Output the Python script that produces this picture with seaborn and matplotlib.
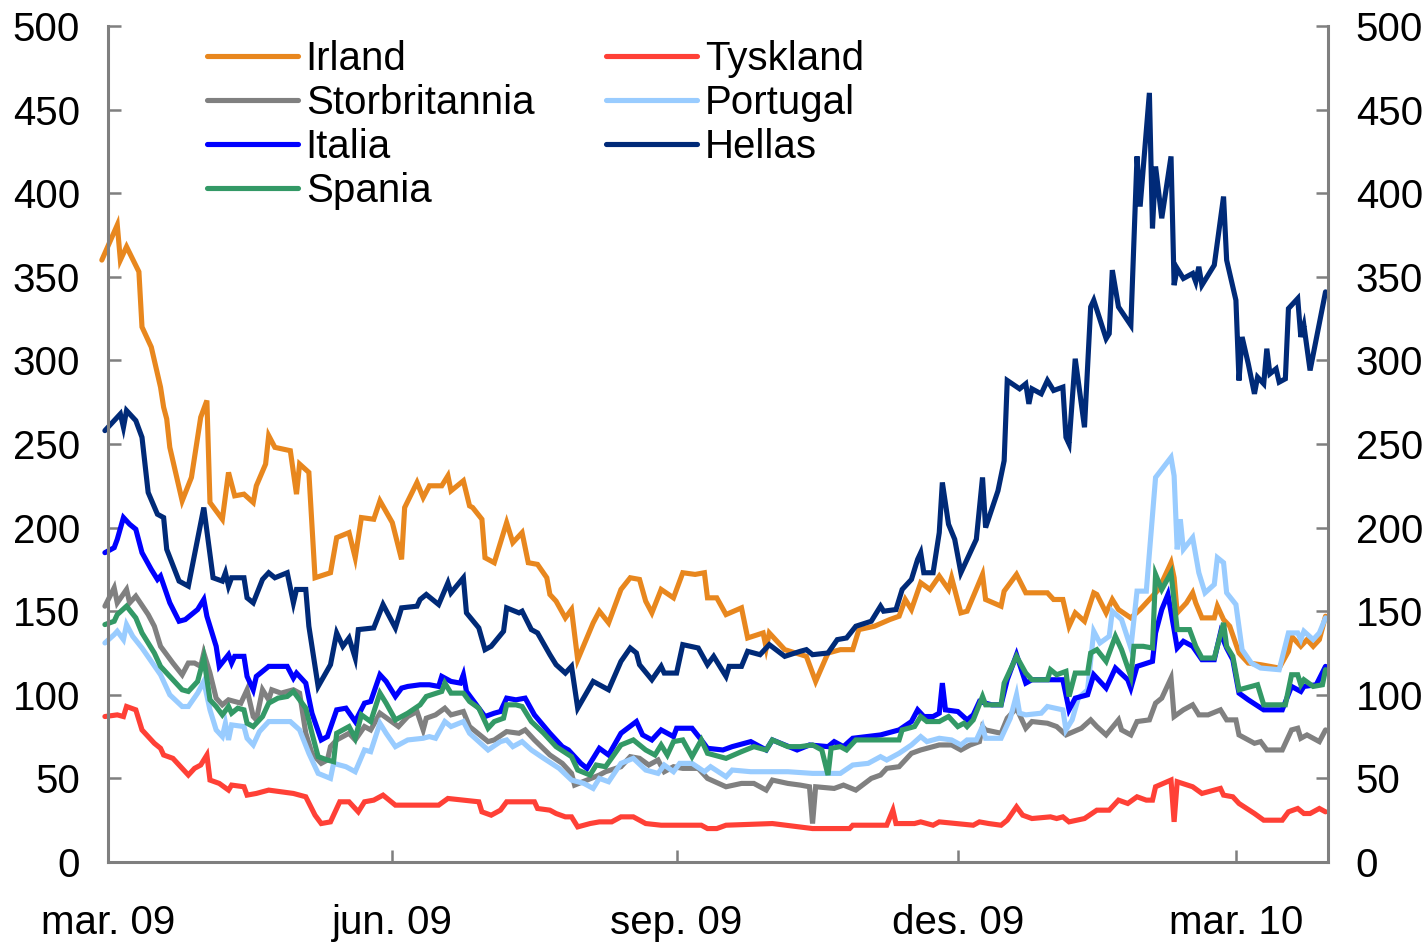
import datetime as dt
import matplotlib
matplotlib.use("Agg")
import matplotlib.pyplot as plt
from matplotlib.lines import Line2D
import pandas as pd
import seaborn as sns

# ---------------- data (days after 1 March 2009, basis points) ----------------
irland_day = [-2,3,4,6,10,11,14,17,18,19,20,24,27,30,32,33,37,39,41,44,47,48,51,52,54,59,61,62,65,67,72,74,78,80,82,86,88,92,95,96,100,102,104,108,110,111,115,117,118,121,122,125,129,131,134,136,139,142,143,145,148,150,152,157,159,162,166,169,172,174,176,179,183,186,190,193,194,197,200,205,207,212,213,214,219,226,229,233,237,241,243,248,253,256,258,260,263,266,269,272,273,276,278,283,284,289,290,294,297,304,306,309,311,313,316,319,320,323,325,327,331,334,337,340,344,345,346,349,351,352,354,358,359,361,363,366,369,373,376,379,382,383,386,388,390,392,394]
irland_val = [360,381,360,368,353,320,308,284,272,265,248,216,230,266,276,215,205,233,219,220,215,225,238,255,248,246,220,238,233,170,173,194,197,182,206,205,216,203,181,212,227,218,225,225,231,222,228,213,212,205,182,179,203,191,197,179,178,170,160,156,146,151,121,143,150,143,163,170,169,156,149,163,158,173,172,173,158,158,148,152,134,137,128,137,127,123,108,125,127,127,139,141,145,147,157,151,167,163,171,163,170,149,150,172,157,153,162,172,161,161,157,157,141,149,144,161,160,149,157,151,146,151,157,163,179,170,149,155,161,155,146,146,153,145,141,125,119,118,117,116,126,135,129,133,129,133,147]

tyskland_day = [-1,3,5,6,9,11,15,17,18,21,23,26,28,30,32,33,36,39,40,44,45,48,52,60,64,67,69,72,75,78,81,83,86,89,93,100,107,110,120,121,124,127,129,136,138,139,143,145,148,150,152,156,159,163,166,170,174,179,192,194,197,200,215,228,240,241,252,254,255,261,263,267,269,280,282,285,289,291,294,296,299,305,307,309,311,316,320,324,327,330,333,336,338,339,344,345,346,351,354,360,361,364,366,371,374,380,382,385,387,389,392,394]
tyskland_val = [87,88,87,93,91,79,71,68,64,62,58,52,56,58,64,49,47,43,46,45,40,41,43,41,39,28,23,24,36,36,30,36,37,40,34,34,34,38,36,30,28,31,36,36,36,32,31,29,27,27,21,23,24,24,27,27,23,22,22,20,20,22,23,20,20,22,22,31,23,23,24,22,24,22,24,23,22,25,33,28,26,27,26,27,24,26,31,31,37,35,39,37,37,45,49,24,48,45,41,44,40,39,35,29,25,25,30,32,29,29,32,30]

storbritannia_day = [-1,2,3,6,7,9,13,15,17,19,21,24,26,28,30,31,33,35,37,39,43,45,47,48,50,52,53,56,60,62,64,66,69,71,72,74,78,80,83,85,88,91,94,97,100,102,103,106,109,111,115,117,123,125,129,133,135,138,143,147,150,151,155,159,161,166,169,172,175,178,180,183,186,191,194,200,205,209,213,215,220,224,227,228,229,235,238,242,247,250,252,256,260,263,269,273,276,279,282,283,284,289,291,294,297,299,304,307,310,315,318,320,323,327,328,331,333,337,339,341,344,345,348,351,353,356,360,362,365,366,371,373,375,380,383,385,386,388,392,394]
storbritannia_val = [153,164,155,163,155,159,148,141,129,124,119,112,119,119,117,125,113,98,94,97,95,103,87,85,103,97,103,101,103,101,77,65,59,61,69,73,77,73,81,79,89,85,81,87,90,79,86,88,92,88,90,81,72,73,78,77,79,73,64,59,53,46,49,52,54,57,63,62,58,61,54,57,56,56,50,45,47,47,43,49,47,46,45,23,45,44,46,43,50,52,56,57,65,67,70,70,67,70,72,81,79,77,86,92,80,84,83,81,76,80,85,81,76,85,79,76,84,85,95,98,110,87,91,94,88,88,91,85,85,76,71,72,67,67,79,80,74,76,72,79]

portugal_day = [-1,2,3,5,6,8,11,14,17,20,24,26,29,31,33,35,37,38,39,40,44,45,47,49,52,59,62,65,68,72,73,77,80,83,85,88,90,93,97,102,104,106,109,111,115,117,120,123,127,129,131,134,137,141,146,150,154,157,159,162,166,170,174,178,180,183,185,189,193,195,200,202,208,213,220,228,237,241,246,250,252,256,260,263,265,269,273,276,278,281,283,284,289,292,294,295,297,302,304,309,310,312,314,317,319,321,324,325,328,331,333,336,339,344,345,346,347,348,351,353,355,358,359,361,362,365,367,370,373,379,382,385,386,387,390,392,394]
portugal_val = [131,136,138,133,142,135,128,120,112,100,93,93,101,108,91,79,75,83,73,82,81,74,70,78,84,84,79,65,53,50,59,57,54,67,66,83,77,69,73,74,75,74,84,81,84,77,72,67,72,73,69,72,67,62,56,49,47,44,50,48,59,62,55,53,58,54,59,59,54,57,51,55,54,54,54,53,53,58,59,63,61,65,70,75,72,74,73,70,73,73,81,74,74,86,100,89,88,89,93,91,79,85,98,103,138,131,135,150,145,128,162,162,230,242,231,187,205,187,194,173,161,166,182,179,161,154,127,119,116,115,137,137,133,138,133,137,146]

italia_day = [-1,2,3,5,7,9,11,14,16,17,20,23,25,29,31,32,35,36,39,40,41,44,45,47,48,52,58,60,61,64,66,69,71,74,77,80,83,85,88,90,93,95,97,101,104,107,108,111,114,115,116,122,125,127,129,132,135,138,143,147,149,153,155,157,159,162,166,171,173,176,179,183,184,189,192,194,199,202,208,213,215,223,227,233,235,238,241,250,256,260,262,264,267,269,270,271,275,278,280,282,286,289,291,294,297,299,304,306,309,311,313,317,319,323,326,330,331,333,338,339,341,343,345,346,348,351,354,358,360,362,364,366,369,374,380,383,386,387,391,394]
italia_val = [185,188,193,206,202,199,185,175,169,171,155,144,145,151,157,147,129,117,124,119,123,123,111,103,111,117,117,110,113,107,89,73,75,91,92,84,95,96,112,108,99,104,105,106,106,105,111,108,107,112,102,87,89,90,98,97,98,88,77,69,67,59,56,62,68,64,77,84,76,73,79,75,80,80,73,68,67,69,72,67,73,67,70,69,72,69,74,76,79,84,91,87,87,89,107,91,90,85,88,96,94,94,109,124,107,109,109,109,109,91,98,100,112,104,116,109,104,117,120,137,151,160,139,128,132,129,121,121,137,128,121,101,97,91,91,105,102,105,106,117]

hellas_day = [-1,4,5,6,9,11,13,16,18,19,23,26,31,34,37,38,39,40,44,45,47,50,52,54,58,60,61,64,65,68,72,74,76,78,80,81,86,89,93,95,100,101,103,107,110,111,115,116,120,122,124,128,129,133,134,137,139,143,145,148,150,152,157,159,162,166,169,171,172,176,179,180,184,186,191,194,196,200,201,205,207,211,214,219,224,226,228,233,236,239,242,247,250,251,255,257,260,262,263,264,267,269,270,272,274,276,278,281,283,284,288,290,291,295,297,298,299,302,304,306,309,310,311,313,316,318,319,323,324,325,327,331,333,334,337,338,339,341,344,345,346,348,351,352,353,354,358,361,362,365,366,367,369,371,372,374,375,376,378,379,381,382,385,386,387,389,394]
hellas_val = [258,268,260,270,264,254,221,208,206,187,168,165,212,170,168,173,165,170,170,158,155,169,173,170,173,155,163,163,141,105,118,137,129,134,122,139,140,154,140,152,153,157,160,154,167,161,170,149,140,127,129,138,152,149,150,139,137,124,118,113,117,92,108,106,103,120,128,125,118,109,117,113,113,130,128,118,123,111,117,117,126,124,130,123,126,127,124,125,133,134,141,144,153,150,151,163,169,181,185,173,173,197,227,202,193,173,181,193,230,200,222,240,288,283,286,274,283,280,288,282,284,254,250,301,260,332,336,313,316,354,332,321,422,392,460,379,416,385,422,345,355,349,352,347,356,345,357,398,360,336,288,314,298,280,290,286,307,292,295,287,289,331,337,314,321,294,341]

spania_day = [-1,2,3,6,9,11,15,17,20,24,26,29,31,33,35,37,39,40,42,44,45,47,50,52,55,58,60,62,64,66,68,71,73,74,78,80,82,85,88,90,93,97,101,103,108,109,111,115,117,120,123,125,128,129,132,134,137,141,145,150,152,156,158,161,166,170,174,177,179,181,183,186,189,192,194,200,205,209,213,215,220,224,228,231,233,234,237,239,242,250,256,257,261,263,265,269,272,273,275,277,278,280,283,284,289,290,294,297,299,304,305,307,310,311,313,317,318,320,323,326,328,331,332,335,338,339,341,344,346,350,352,354,358,361,362,364,366,372,374,381,383,385,386,387,390,393,394]
spania_val = [142,144,148,153,146,137,125,117,111,103,102,108,122,97,93,88,93,89,92,91,83,81,87,95,98,99,102,97,92,77,63,61,60,77,81,74,88,84,101,95,85,89,94,99,102,107,101,101,96,92,80,84,86,94,94,93,84,77,69,63,55,52,58,57,70,73,67,64,70,64,72,73,63,73,65,62,66,69,67,73,69,69,70,67,52,68,69,67,73,73,73,79,81,87,84,84,87,85,81,83,81,85,99,94,94,107,123,113,109,109,115,112,114,99,113,113,125,127,120,135,127,111,129,129,128,172,163,173,139,139,129,122,122,143,129,123,103,106,94,94,112,112,106,109,105,106,115]

series_names = ["Irland", "Storbritannia", "Italia", "Spania", "Tyskland", "Portugal", "Hellas"]
tick_dates = ["2009-03-01", "2009-06-01", "2009-09-01", "2009-12-01", "2010-03-01"]
tick_labels = ["mar. 09", "jun. 09", "sep. 09", "des. 09", "mar. 10"]
y_ticks = [0, 50, 100, 150, 200, 250, 300, 350, 400, 450, 500]

# ---------------- style ----------------
colors = {
    "Irland": "#E8871E",
    "Tyskland": "#FF4036",
    "Storbritannia": "#808080",
    "Portugal": "#99CCFF",
    "Italia": "#0000FF",
    "Hellas": "#002A78",
    "Spania": "#339966",
}
data = {
    "Irland": (irland_day, irland_val),
    "Tyskland": (tyskland_day, tyskland_val),
    "Storbritannia": (storbritannia_day, storbritannia_val),
    "Portugal": (portugal_day, portugal_val),
    "Italia": (italia_day, italia_val),
    "Hellas": (hellas_day, hellas_val),
    "Spania": (spania_day, spania_val),
}
draw_order = ["Irland", "Tyskland", "Storbritannia", "Portugal", "Italia", "Spania", "Hellas"]

sns.set_theme(style="white")
plt.rcParams["font.family"] = ["Liberation Sans Narrow", "Liberation Sans", "DejaVu Sans"]
plt.rcParams["text.color"] = "black"
FS = 29
GRAY = "#7F7F7F"
LW = 3.7

fig = plt.figure(figsize=(14.26, 9.42), dpi=100)
ax = fig.add_axes([108 / 1426, 1 - 862 / 942, (1328 - 108) / 1426, (862 - 26) / 942])

base = pd.Timestamp("2009-03-01")
for name in draw_order:
    days, vals = data[name]
    df = pd.DataFrame({"date": base + pd.to_timedelta(days, unit="D"), "value": vals})
    sns.lineplot(data=df, x="date", y="value", ax=ax, color=colors[name], lw=LW,
                 estimator=None, sort=False, legend=False)
for ln in ax.get_lines():
    ln.set_clip_on(False)
    ln.set_solid_joinstyle("miter")

ax.set_xlim(base, base + pd.Timedelta(days=394.8))
ax.set_ylim(0, 500)
ax.set_xlabel("")
ax.set_ylabel("")

ax.set_xticks(pd.to_datetime(tick_dates))
ax.set_xticklabels(tick_labels)
ax.set_yticks(y_ticks)
ax.set_yticklabels([str(v) for v in y_ticks])

for side in ["left", "right", "bottom"]:
    ax.spines[side].set_visible(True)
    ax.spines[side].set_color(GRAY)
    ax.spines[side].set_linewidth(2.2)
ax.spines["top"].set_visible(False)

ax.tick_params(axis="y", which="both", direction="in", length=9, width=1.8, color=GRAY,
               left=True, right=True, labelleft=True, labelright=True, labelsize=FS, pad=20,
               labelcolor="black")
ax.tick_params(axis="x", direction="in", length=9, width=1.8, color=GRAY, bottom=True,
               labelsize=FS, pad=30, labelcolor="black")
ax.grid(False)

handles = [Line2D([0], [0], color=colors[n], lw=LW) for n in series_names]
leg = ax.legend(handles, series_names, ncol=2, loc="upper left",
                bbox_to_anchor=((207 - 108) / 1220, (862 - 40) / 836), frameon=False,
                fontsize=FS, handlelength=2.25, handletextpad=0.2, columnspacing=1.78,
                labelspacing=0.15, borderaxespad=0.0, borderpad=0.0)
for t in leg.get_texts():
    t.set_color("black")

fig.savefig("out.png", dpi=100)
